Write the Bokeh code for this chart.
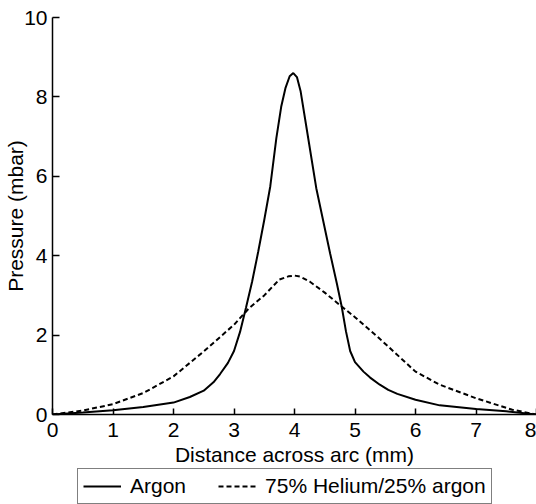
from bokeh.plotting import figure
from bokeh.models import Range1d, Legend, LegendItem
from bokeh.layouts import column
from bokeh.embed import file_html
from bokeh.resources import INLINE

# Data
argon_x = [0, 0.5, 1, 1.5, 2, 2.27, 2.5, 2.66, 2.77, 2.9, 3, 3.1, 3.2, 3.3, 3.4, 3.5, 3.6, 3.7, 3.78,
           3.85, 3.92, 3.98, 4.04, 4.1, 4.2, 4.36, 4.59, 4.7, 4.78, 4.85, 4.92, 5.0, 5.14, 5.25,
           5.41, 5.55, 5.7, 6.0, 6.4, 7.0, 7.5, 8]
argon_y = [0, 0.05, 0.11, 0.19, 0.3, 0.44, 0.6, 0.81, 1.02, 1.3, 1.6, 2.08, 2.7, 3.35, 4.1, 4.9, 5.75,
           6.96, 7.75, 8.22, 8.52, 8.6, 8.5, 8.15, 7.21, 5.7, 4.05, 3.3, 2.72, 2.1, 1.6, 1.32, 1.08,
           0.93, 0.75, 0.62, 0.52, 0.37, 0.23, 0.14, 0.08, 0]

helium_x = [0, 0.5, 1, 1.5, 2, 2.5, 3, 3.25, 3.5, 3.75, 3.9, 4.0, 4.1, 4.25, 4.5, 4.78, 5.0, 5.4,
            6.0, 6.4, 7.0, 7.6, 8]
helium_y = [0, 0.1, 0.26, 0.54, 0.96, 1.59, 2.26, 2.68, 3.0, 3.4, 3.48, 3.5, 3.47, 3.35, 3.07,
            2.72, 2.45, 1.92, 1.08, 0.75, 0.41, 0.12, 0]

series_labels = ["Argon", "75% Helium/25% argon"]
x_ticks = [0, 1, 2, 3, 4, 5, 6, 7, 8]
y_ticks = [0, 2, 4, 6, 8, 10]

FONT = "Liberation Sans"

p = figure(width=536, height=468, x_range=Range1d(0, 8), y_range=Range1d(0, 10),
           output_backend="svg", toolbar_location=None,
           min_border_left=52, min_border_right=0, min_border_top=17, min_border_bottom=54)
p.outline_line_color = None
p.grid.visible = False
p.background_fill_color = "white"
p.border_fill_color = "white"

p.line(argon_x, argon_y, line_color="black", line_width=2)
p.line(helium_x, helium_y, line_color="black", line_width=2, line_dash="5 3")

for ax in (p.xaxis, p.yaxis):
    ax.axis_line_color = "black"
    ax.axis_line_width = 1.5
    ax.major_tick_line_color = "black"
    ax.major_tick_line_width = 1.5
    ax.major_tick_out = 0
    ax.minor_tick_line_color = None
    ax.major_label_text_font = FONT
    ax.major_label_text_font_size = "21px"
    ax.major_label_text_color = "black"
    ax.axis_label_text_font = FONT
    ax.axis_label_text_font_size = "21px"
    ax.axis_label_text_font_style = "normal"
    ax.axis_label_text_color = "black"

p.xaxis.ticker = x_ticks
p.yaxis.ticker = y_ticks
p.xaxis.major_tick_in = 6
p.yaxis.major_tick_in = 7
p.xaxis.major_label_standoff = 8
p.yaxis.major_label_standoff = 5
p.xaxis.axis_label = "Distance across arc (mm)"
p.yaxis.axis_label = "Pressure (mbar)"
p.xaxis.axis_label_standoff = 3
p.yaxis.axis_label_standoff = -6

# Legend strip below the chart (the series are drawn out of its view; only the key shows)
lg = figure(width=536, height=36, x_range=Range1d(0, 8), y_range=Range1d(20, 30),
            output_backend="svg", toolbar_location=None,
            x_axis_location=None, y_axis_location=None, min_border=0)
lg.outline_line_color = None
lg.grid.visible = False
lg.background_fill_color = "white"
lg.border_fill_color = "white"
k1 = lg.line(argon_x, argon_y, line_color="black", line_width=2)
k2 = lg.line(helium_x, helium_y, line_color="black", line_width=2, line_dash="5 3")

legend = Legend(items=[LegendItem(label=series_labels[0], renderers=[k1]),
                       LegendItem(label=series_labels[1], renderers=[k2])],
                orientation="horizontal", location=(25, 0))
legend.border_line_color = "black"
legend.border_line_width = 1.5
legend.background_fill_color = "white"
legend.label_text_font = FONT
legend.label_text_font_size = "21px"
legend.label_text_color = "black"
legend.glyph_width = 38
legend.glyph_height = 20
legend.label_standoff = 9
legend.spacing = 32
legend.padding = 5
legend.margin = 0
lg.add_layout(legend)

layout = column(p, lg, spacing=0)
open("out.html", "w").write(file_html(layout, INLINE))
